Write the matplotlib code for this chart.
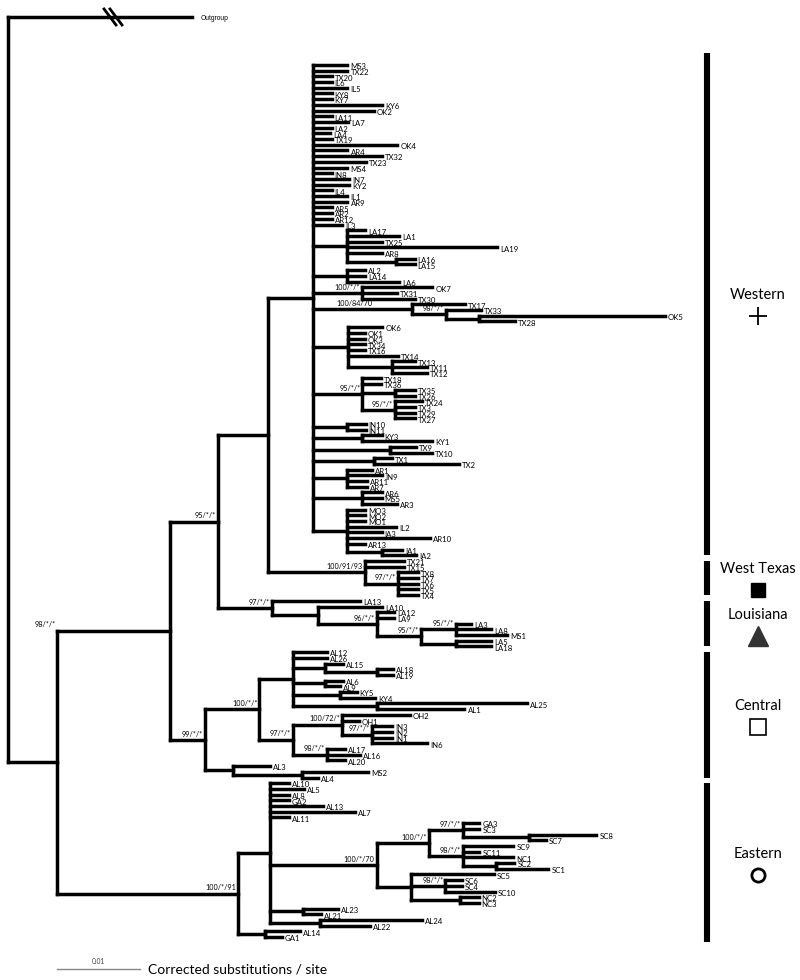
import matplotlib
matplotlib.use("Agg")
import matplotlib.pyplot as plt
from matplotlib.collections import LineCollection

plt.rcParams['font.family'] = ['Lato', 'DejaVu Sans']

# branch lengths are in units of 0.001 corrected substitutions / site
UNIT = 0.001

WESTERN = """(MS3:4.1,TX22:4.1,TX20:2.2,IL6:2.2,IL5:4.1,KY8:2.2,KY7:2.2,KY6:8.3,OK2:7.3,
LA11:2.2,LA7:4.2,LA2:2.2,LA4:2.0,TX19:2.2,OK4:10.1,AR4:4.1,TX32:8.3,TX23:6.3,MS4:4.1,
IN8:2.2,IN7:4.3,KY2:4.3,IL4:2.2,IL1:4.1,AR9:4.1,AR5:2.2,AR2:2.2,AR12:2.2,IL3:3.5,
(LA17:2.2,LA1:6.3,TX25:4.2,LA19:18.1,AR8:4.2,(LA16:2.2,LA15:2.2):6.0):4.0,
(AL2:2.2,LA14:2.2,LA6:6.3):4.0,
(OK7:8.4,TX31:4.2,TX30:6.3)100/*/*:5.9,
(TX17:6.4,(TX33:4.2,(OK5:22.3,TX28:4.3):4.0)98/*/*:4.1)100/84/70:11.9,
(OK6:4.1,OK1:2.0,OK3:2.0,TX34:2.0,TX16:2.0,TX14:6.0,(TX13:2.7,TX11:4.2,TX12:4.2):5.3):4.2,
(TX18:2.2,TX36:2.2,(TX35:2.4,TX26:2.4):3.9,(TX24:3.3,TX3:2.4,TX29:2.4,TX27:2.4)95/*/*:3.9)95/*/*:5.9,
(IN10:2.3,IN11:2.3):4.0,
(KY3:2.3,KY1:8.4):5.9,
(TX9:3.1,TX10:5.1):9.2,
(TX1:2.2,TX2:10.2):7.3,
(AR1:3.0,IN9:4.3,AR11:2.4,AR7:2.4):4.0,
(AR6:2.3,MS5:2.3,AR3:4.2):5.9,
(MO3:2.2,MO2:2.2,MO1:2.2,IL2:6.0,IA3:4.2,AR10:10.0,AR13:2.2,(IA1:2.5,IA2:4.2):4.2):4.0)"""

WEST_TEXAS = "(TX21:4.7,TX15:4.7,(TX8:2.4,TX7:2.4,TX6:2.4,TX5:2.4,TX4:2.4)97/*/*:4.0)100/91/93"

LOUISIANA = """(LA13:10.6,(LA10:7.8,(LA12:2.0,LA9:2.0,((LA3:1.8,LA8:4.2,MS1:6.1)95/*/*:4.2,
(LA5:4.2,LA18:4.2):4.2)95/*/*:5.3)96/*/*:7.2):5.5)97/*/*"""

CENTRAL = """(((AL12:4.1,AL26:4.1,(AL15:2.2,(AL18:1.9,AL19:1.9):6.3):3.9,(AL6:2.2,AL9:1.8):3.9,
(KY5:2.0,KY4:4.2):5.7,(AL25:18.1,AL1:10.6):10.1):4.0,
((OH2:8.1,OH1:2.0,(IN3:2.4,IN2:2.4,IN1:2.4,IN6:6.6)97/*/*:3.6)100/72/*:6.0,
(AL17:2.2,AL16:4.0,AL20:2.2)98/*/*:4.1)97/*/*:4.0)100/*/*:6.6,
(AL3:4.5,(MS2:8.0,AL4:1.9):8.3):3.4)99/*/*"""

EASTERN = """((AL10:2.2,AL5:4.1,AL8:2.2,GA2:2.2,AL13:6.3,AL7:10.2,AL11:2.2,
(((GA3:2.0,SC3:2.0,(SC8:8.1,SC7:2.0):8.0)97/*/*:4.1,
(SC9:6.1,SC11:2.0,NC1:6.1,(SC2:2.2,SC1:6.3):4.0)98/*/*:4.1)100/*/*:6.3,
(SC5:10.0,(SC6:2.0,SC4:2.0,SC10:6.0)98/*/*:4.2,(NC2:2.2,NC3:2.2):6.0):4.1)100/*/70:12.8,
(AL23:4.3,AL21:2.2):3.9,(AL24:12.3,AL22:6.0):6.0):3.9,(AL14:4.2,GA1:2.0):3.3)100/*/91"""

TREE = (f"(Outgroup:22.2,(((({WESTERN}:5.5,{WEST_TEXAS}:11.7):6.0,{LOUISIANA}:6.5)95/*/*:5.8,"
        f"{CENTRAL}:4.2)98/*/*:13.6,{EASTERN}:21.8):5.9);")

# groups: name, first tip, last tip, symbol
GROUPS = [
    ("Western", "MS3", "IA2", "plus"),
    ("West Texas", "TX21", "TX4", "square"),
    ("Louisiana", "LA13", "LA18", "triangle"),
    ("Central", "AL12", "AL4", "open_square"),
    ("Eastern", "AL10", "GA1", "circle"),
]

# support labels that sit away from their node (px shift to the left)
LABEL_SHIFT = {("MS3", "AL4"): 112, ("TX17", "TX28"): 38}

# pixel <-> data helpers (figure is 800 x 980 px)
PX_X = 0.01 / 83      # 0.01 substitutions = 83 px
PX_Y = 1 / 5.7        # one tip = 5.7 px
Y0 = 65               # px of first tip
OUTGROUP_Y = (17 - Y0) * PX_Y


def parse(s):
    s = "".join(s.split())
    pos = 0

    def node():
        nonlocal pos
        n = {"children": [], "name": "", "length": 0.0}
        if s[pos] == "(":
            pos += 1
            while True:
                n["children"].append(node())
                if s[pos] == ",":
                    pos += 1
                    continue
                pos += 1
                break
        start = pos
        while s[pos] not in ",():;":
            pos += 1
        n["name"] = s[start:pos]
        if s[pos] == ":":
            pos += 1
            start = pos
            while s[pos] not in ",();":
                pos += 1
            n["length"] = float(s[start:pos])
        return n

    return node()


root = parse(TREE)
tips = []
internals = []


def layout(n, x):
    n["x"] = x + n["length"] * UNIT
    if not n["children"]:
        if n["name"] == "Outgroup":
            n["y"] = OUTGROUP_Y
        else:
            n["y"] = len(tips)
            tips.append(n)
        n["first"] = n["last"] = n["name"]
    else:
        for c in n["children"]:
            layout(c, n["x"])
        n["y"] = (n["children"][0]["y"] + n["children"][-1]["y"]) / 2
        n["first"] = n["children"][0]["first"]
        n["last"] = n["children"][-1]["last"]
        internals.append(n)


layout(root, 0.0)
tip_y = {t["name"]: t["y"] for t in tips}

fig = plt.figure(figsize=(8, 9.8), dpi=100)
ax = fig.add_axes([0, 0, 1, 1])
ax.set_xlim(-8 * PX_X, 792 * PX_X)
ax.set_ylim((980 - Y0) * PX_Y, -Y0 * PX_Y)
ax.axis("off")

segs = []
for n in internals:
    ys = [c["y"] for c in n["children"]]
    segs.append([(n["x"], min(ys)), (n["x"], max(ys))])
    for c in n["children"]:
        segs.append([(n["x"], c["y"]), (c["x"], c["y"])])
ax.add_collection(LineCollection(segs, colors="black", linewidths=2.5, capstyle="projecting"))

# tip labels
for t in tips:
    ax.text(t["x"] + 3 * PX_X, t["y"] + 0.3, t["name"], fontsize=5.6,
            ha="left", va="center")

# outgroup label and break mark
og = root["children"][0]
ax.text(og["x"] + 8 * PX_X, og["y"] + 0.3, "Outgroup", fontsize=4.8,
        family=["Liberation Sans", "DejaVu Sans"], ha="left", va="center")
bx = og["x"] * 0.57
for dx in (-3, 3):
    ax.plot([bx + (dx - 6) * PX_X, bx + (dx + 6) * PX_X],
            [og["y"] - 8 * PX_Y, og["y"] + 8 * PX_Y], color="black", lw=2.0)

# support labels
for n in internals:
    if n["name"]:
        shift = LABEL_SHIFT.get((n["first"], n["last"]), 0)
        ax.text(n["x"] - (2 + shift) * PX_X, n["y"] - 0.4, n["name"],
                fontsize=5.2, ha="right", va="bottom")

# group bars and labels
tr = ax.get_yaxis_transform()
gap = 0.5
for k, (name, first, last, sym) in enumerate(GROUPS):
    top = tip_y[first] - 2.1 if k == 0 else (tip_y[first] + tip_y[GROUPS[k - 1][2]]) / 2 + gap
    bot = tip_y[last] + 0.9 if k == len(GROUPS) - 1 else (tip_y[last] + tip_y[GROUPS[k + 1][1]]) / 2 - gap
    ax.plot([0.884, 0.884], [top, bot], transform=tr, color="black", lw=4.4,
            solid_capstyle="butt")
    mid = (top + bot) / 2
    ax.text(0.9475, mid - 9 * PX_Y, name, transform=tr, fontsize=10.5,
            ha="center", va="center")
    sy = mid + 12 * PX_Y
    if sym == "plus":
        ax.plot(0.9475, sy, transform=tr, marker="+", ms=13, mew=1.3, color="black")
    elif sym == "square":
        ax.plot(0.9475, sy, transform=tr, marker="s", ms=10.5, color="black")
    elif sym == "triangle":
        ax.plot(0.9475, sy, transform=tr, marker="^", ms=14, color="#333333")
    elif sym == "open_square":
        ax.plot(0.9475, sy, transform=tr, marker="s", ms=11, mfc="white",
                mec="black", mew=1.2)
    else:
        ax.plot(0.9475, sy, transform=tr, marker="o", ms=9.5, mfc="white",
                mec="black", mew=2.0)

# scale bar
sx = (57 - 8) * PX_X
sy_bar = (969 - Y0) * PX_Y
ax.plot([sx, sx + 0.01], [sy_bar, sy_bar], color="#888888", lw=1.0)
ax.text(sx + 0.005, sy_bar - 4 * PX_Y, "0.01", fontsize=4.8, color="#444444",
        ha="center", va="bottom")
ax.text((148 - 8) * PX_X, sy_bar, "Corrected substitutions / site", fontsize=10,
        ha="left", va="center")

fig.savefig("out.png", dpi=100)
